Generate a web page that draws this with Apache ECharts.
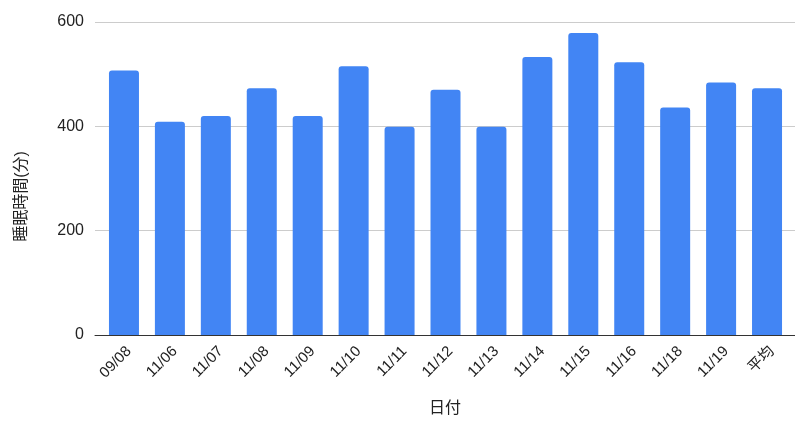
<!DOCTYPE html>
<html>
<head>
<meta charset="utf-8">
<script src="https://cdn.jsdelivr.net/npm/echarts@6/dist/echarts.min.js"></script>
<style>
  html, body { margin: 0; padding: 0; background: #fff; }
  #chart { width: 795px; height: 432px; }
</style>
</head>
<body>
<div id="chart"></div>
<script>
// Nightly sleep duration (minutes) per date, plus the average
const dates = ['09/08', '11/06', '11/07', '11/08', '11/09', '11/10', '11/11', '11/12',
               '11/13', '11/14', '11/15', '11/16', '11/18', '11/19', '平均'];
const sleepMinutes = [507, 409, 420, 473, 420, 515, 399, 470, 399, 533, 579, 523, 436, 484, 473];
const yTicks = { min: 0, max: 600, interval: 200 };

const FONT = '"Liberation Sans", Arial, "Noto Sans CJK JP", sans-serif';
const TEXT = '#222222';
const TOP = 22, BOTTOM = 97;

const chart = echarts.init(document.getElementById('chart'), null, { renderer: 'canvas' });

chart.setOption({
  animation: false,
  backgroundColor: '#ffffff',
  textStyle: { fontFamily: FONT },
  grid: [
    // frame: gridlines, y labels, baseline, axis titles
    { left: 95, right: 0, top: TOP, bottom: BOTTOM, containLabel: false },
    // bars
    { left: 101, right: 5, top: TOP, bottom: BOTTOM, containLabel: false },
    // rotated date labels
    { left: 106, right: 0, top: TOP, bottom: BOTTOM, containLabel: false }
  ],
  xAxis: [
    {
      gridIndex: 0, type: 'category', data: dates,
      name: '日付', nameLocation: 'middle', nameGap: 66,
      nameTextStyle: { color: TEXT, fontSize: 16, fontFamily: FONT },
      axisLine: { show: true, lineStyle: { color: '#333333', width: 1 } },
      axisTick: { show: false }, axisLabel: { show: false }, splitLine: { show: false }
    },
    {
      gridIndex: 1, type: 'category', data: dates,
      axisLine: { show: false }, axisTick: { show: false },
      axisLabel: { show: false }, splitLine: { show: false }
    },
    {
      gridIndex: 2, type: 'category', data: dates,
      axisLine: { show: false }, axisTick: { show: false }, splitLine: { show: false },
      axisLabel: {
        show: true, interval: 0, rotate: 45, margin: 14,
        color: TEXT, fontSize: 15, fontFamily: FONT
      }
    }
  ],
  yAxis: [
    {
      gridIndex: 0, type: 'value',
      min: yTicks.min, max: yTicks.max, interval: yTicks.interval,
      name: '睡眠時間(分)', nameLocation: 'middle', nameGap: 65,
      nameTextStyle: { color: TEXT, fontSize: 16, fontFamily: FONT, padding: [0, 36, 0, 0] },
      axisLine: { show: false }, axisTick: { show: false },
      axisLabel: { color: TEXT, fontSize: 16, margin: 11, fontFamily: FONT, padding: [2, 0, 0, 0] },
      splitLine: { show: true, lineStyle: { color: '#cccccc', width: 1 } }
    },
    {
      gridIndex: 1, type: 'value',
      min: yTicks.min, max: yTicks.max, interval: yTicks.interval,
      axisLine: { show: false }, axisTick: { show: false },
      axisLabel: { show: false }, splitLine: { show: false }
    },
    {
      gridIndex: 2, type: 'value',
      min: yTicks.min, max: yTicks.max, interval: yTicks.interval,
      axisLine: { show: false }, axisTick: { show: false },
      axisLabel: { show: false }, splitLine: { show: false }
    }
  ],
  series: [
    {
      type: 'bar',
      xAxisIndex: 1, yAxisIndex: 1,
      data: sleepMinutes,
      barWidth: 30,
      itemStyle: { color: '#4285f4', borderRadius: [3, 3, 0, 0] },
      z: 3
    }
  ]
});
</script>
</body>
</html>
